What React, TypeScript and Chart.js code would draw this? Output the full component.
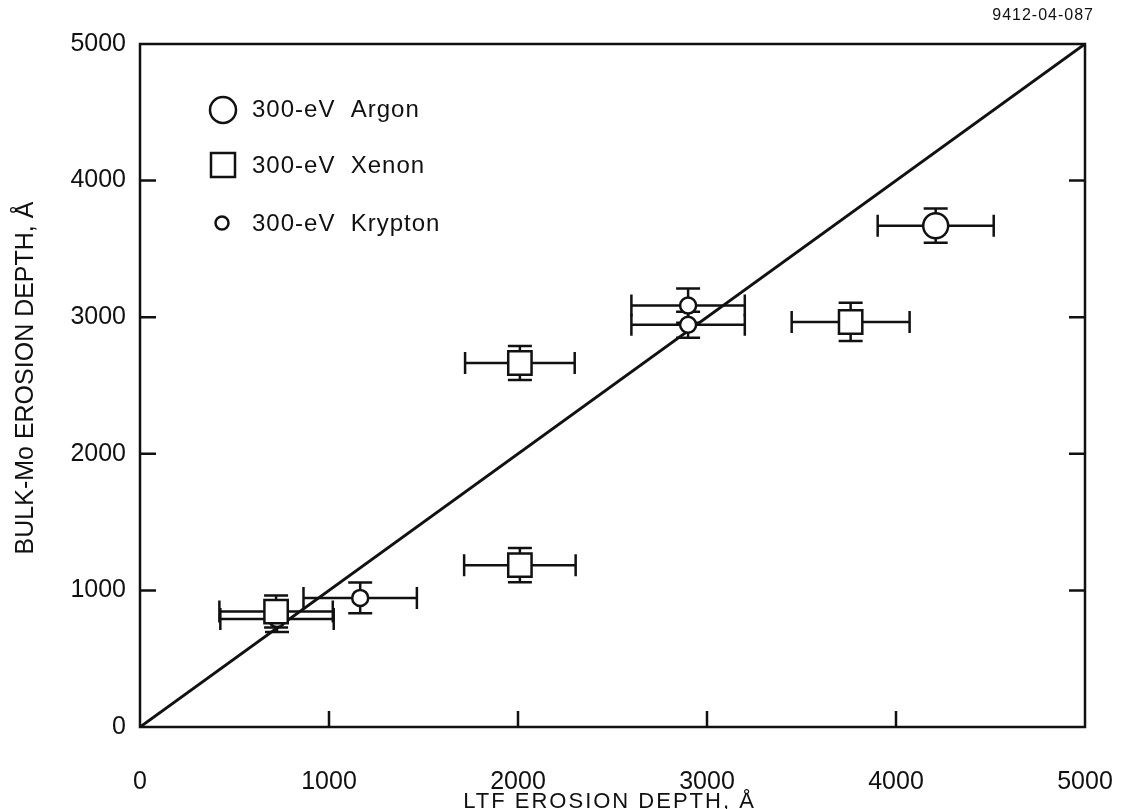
import React, { useEffect, useRef } from 'react';
import { Chart, registerables } from 'chart.js';

Chart.register(...registerables);

// ---- data ----
const axisMin = 0;
const axisMax = 5000;
const tickStep = 1000;
const innerTicks = [1000, 2000, 3000, 4000];

const argonX = [4210];
const argonY = [3670];
const argonXErr = [307];
const argonYErr = [125];

const xenonX = [720, 2010, 2010, 3760];
const xenonY = [845, 2665, 1185, 2965];
const xenonXErr = [300, 290, 295, 312];
const xenonYErr = [117, 125, 125, 140];

const kryptonX = [725, 1165, 2900, 2900];
const kryptonY = [790, 945, 3085, 2945];
const kryptonXErr = [300, 300, 300, 300];
const kryptonYErr = [95, 113, 125, 95];

const identityLine = [0, 5000];

const legendLabels = ['300-eV  Argon', '300-eV  Xenon', '300-eV  Krypton'];
const xTitle = 'LTF EROSION DEPTH, Å';
const yTitle = 'BULK-Mo EROSION DEPTH, Å';
const figureId = '9412-04-087';

const FONT = "'Liberation Sans', Arial, Helvetica, sans-serif";
const INK = '#111111';

const toPoints = (xs: number[], ys: number[]) => xs.map((x, i) => ({ x, y: ys[i] }));

const errorSets = [
  { xs: argonX, ys: argonY, xe: argonXErr, ye: argonYErr },
  { xs: xenonX, ys: xenonY, xe: xenonXErr, ye: xenonYErr },
  { xs: kryptonX, ys: kryptonY, xe: kryptonXErr, ye: kryptonYErr },
];

const overlayPlugin = {
  id: 'overlay',
  beforeDatasetsDraw(chart: any) {
    const { ctx, scales } = chart;
    const xs = scales.x;
    const ys = scales.y;
    ctx.save();
    ctx.strokeStyle = INK;
    ctx.lineWidth = 2.5;
    const cap = 11;
    errorSets.forEach((s) => {
      s.xs.forEach((xv, i) => {
        const yv = s.ys[i];
        const px = xs.getPixelForValue(xv);
        const py = ys.getPixelForValue(yv);
        const xl = xs.getPixelForValue(xv - s.xe[i]);
        const xr = xs.getPixelForValue(xv + s.xe[i]);
        const yt = ys.getPixelForValue(yv + s.ye[i]);
        const yb = ys.getPixelForValue(yv - s.ye[i]);
        ctx.beginPath();
        ctx.moveTo(xl, py); ctx.lineTo(xr, py);
        ctx.moveTo(xl, py - cap); ctx.lineTo(xl, py + cap);
        ctx.moveTo(xr, py - cap); ctx.lineTo(xr, py + cap);
        ctx.moveTo(px, yt); ctx.lineTo(px, yb);
        ctx.moveTo(px - 12, yt); ctx.lineTo(px + 12, yt);
        ctx.moveTo(px - 12, yb); ctx.lineTo(px + 12, yb);
        ctx.stroke();
      });
    });
    ctx.restore();
  },
  afterDraw(chart: any) {
    const { ctx, chartArea, scales } = chart;
    const { left, right, top, bottom } = chartArea;
    ctx.save();
    ctx.strokeStyle = INK;
    ctx.lineWidth = 2.5;
    ctx.strokeRect(left, top, right - left, bottom - top);
    const tl = 16;
    ctx.beginPath();
    innerTicks.forEach((v) => {
      const px = scales.x.getPixelForValue(v);
      const py = scales.y.getPixelForValue(v);
      ctx.moveTo(px, bottom); ctx.lineTo(px, bottom - tl);
      ctx.moveTo(left, py); ctx.lineTo(left + tl, py);
      ctx.moveTo(right, py); ctx.lineTo(right - tl, py);
    });
    ctx.stroke();

    // titles
    ctx.fillStyle = INK;
    ctx.textBaseline = 'middle';
    ctx.textAlign = 'center';
    ctx.save();
    (ctx as any).letterSpacing = '2px';
    ctx.font = `22px ${FONT}`;
    ctx.fillText(xTitle, (left + right) / 2 - 3, 802);
    ctx.restore();
    ctx.save();
    ctx.translate(26, 378);
    ctx.rotate(-Math.PI / 2);
    ctx.font = `25px ${FONT}`;
    ctx.fillText(yTitle, 0, 0);
    ctx.restore();

    // figure id
    ctx.save();
    (ctx as any).letterSpacing = '1px';
    ctx.textAlign = 'right';
    ctx.font = `16px ${FONT}`;
    ctx.fillText(figureId, 1094, 16);
    ctx.restore();

    // legend
    ctx.save();
    ctx.lineWidth = 2.5;
    ctx.fillStyle = '#ffffff';
    ctx.beginPath();
    ctx.arc(223, 110, 13, 0, Math.PI * 2);
    ctx.fill(); ctx.stroke();
    ctx.beginPath();
    ctx.rect(211, 153, 24, 24);
    ctx.fill(); ctx.stroke();
    ctx.beginPath();
    ctx.arc(222, 223, 6.5, 0, Math.PI * 2);
    ctx.fill(); ctx.stroke();
    ctx.fillStyle = INK;
    (ctx as any).letterSpacing = '1px';
    ctx.textAlign = 'left';
    ctx.font = `24px ${FONT}`;
    ctx.fillText(legendLabels[0], 252, 110);
    ctx.fillText(legendLabels[1], 252, 166);
    ctx.fillText(legendLabels[2], 252, 224);
    ctx.restore();

    ctx.restore();
  },
};

export default function App() {
  const canvasRef = useRef<HTMLCanvasElement | null>(null);

  useEffect(() => {
    const canvas = canvasRef.current;
    if (!canvas) return;
    const tickFont = { family: FONT, size: 25 };
    const plain = (v: any) => String(v);
    const chart = new Chart(canvas, {
      type: 'scatter',
      data: {
        datasets: [
          {
            type: 'line',
            label: 'identity',
            data: toPoints(identityLine, identityLine),
            borderColor: INK,
            borderWidth: 3,
            pointRadius: 0,
            fill: false,
            order: 10,
          } as any,
          {
            label: 'Argon',
            data: toPoints(argonX, argonY),
            pointStyle: 'circle',
            pointRadius: 12.5,
            borderColor: INK,
            backgroundColor: '#ffffff',
            borderWidth: 2.5,
            order: 1,
          },
          {
            label: 'Xenon',
            data: toPoints(xenonX, xenonY),
            pointStyle: 'rect',
            pointRadius: 16.5,
            borderColor: INK,
            backgroundColor: '#ffffff',
            borderWidth: 2.5,
            order: 1,
          },
          {
            label: 'Krypton',
            data: toPoints(kryptonX, kryptonY),
            pointStyle: 'circle',
            pointRadius: 8,
            borderColor: INK,
            backgroundColor: '#ffffff',
            borderWidth: 2.5,
            order: 1,
          },
        ],
      },
      options: {
        responsive: false,
        animation: false,
        devicePixelRatio: 1,
        layout: { padding: { top: 44, right: 36, left: 0, bottom: 0 } },
        plugins: {
          legend: { display: false },
          tooltip: { enabled: false },
        },
        scales: {
          x: {
            type: 'linear',
            min: axisMin,
            max: axisMax,
            ticks: { stepSize: tickStep, padding: 40, font: tickFont, color: INK, maxRotation: 0, callback: plain },
            grid: { display: false, drawTicks: false },
            border: { display: false },
            afterFit: (s: any) => { s.height = 82; s.paddingLeft = 0; s.paddingRight = 0; },
          },
          y: {
            type: 'linear',
            min: axisMin,
            max: axisMax,
            ticks: { stepSize: tickStep, padding: 14, font: tickFont, color: INK, callback: plain },
            grid: { display: false, drawTicks: false },
            border: { display: false },
            afterFit: (s: any) => { s.width = 140; s.paddingTop = 0; s.paddingBottom = 0; },
          },
        },
      } as any,
      plugins: [overlayPlugin],
    });
    return () => chart.destroy();
  }, []);

  return (
    <div style={{ position: 'absolute', left: 0, top: 0, width: 1121, height: 809, background: '#ffffff' }}>
      <canvas ref={canvasRef} width={1121} height={809} style={{ display: 'block' }} />
    </div>
  );
}
